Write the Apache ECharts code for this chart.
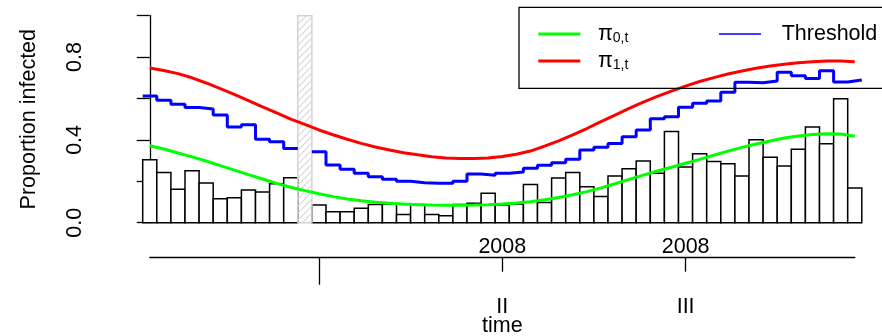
<!DOCTYPE html>
<html>
<head>
<meta charset="utf-8">
<script src="https://cdn.jsdelivr.net/npm/echarts@6/dist/echarts.min.js"></script>
<style>
  html, body { margin: 0; padding: 0; background: #fff; }
  #chart { width: 882px; height: 336px; }
</style>
</head>
<body>
<div id="chart"></div>
<script>
// Weekly proportion of infected units (null = week without observation)
const proportions = [
  0.304, 0.243, 0.161, 0.251, 0.192, 0.116, 0.121, 0.158, 0.148, 0.188,
  0.217, null,  0.086, 0.053, 0.053, 0.070, 0.088, 0.090, 0.040, 0.088,
  0.040, 0.034, 0.088, 0.094, 0.142, 0.086, 0.090, 0.185, 0.098, 0.216,
  0.242, 0.174, 0.127, 0.226, 0.261, 0.298, 0.239, 0.440, 0.269, 0.333,
  0.296, 0.285, 0.226, 0.401, 0.316, 0.274, 0.355, 0.462, 0.382, 0.599,
  0.168
];

// In-control seasonal proportion pi_{0,t}
const pi0 = [
  0.372, 0.356, 0.337, 0.318, 0.298, 0.276, 0.254, 0.232, 0.211, 0.190,
  0.171, 0.155, 0.140, 0.126, 0.115, 0.106, 0.099, 0.094, 0.090, 0.087,
  0.085, 0.084, 0.084, 0.085, 0.087, 0.090, 0.095, 0.101, 0.111, 0.122,
  0.135, 0.150, 0.168, 0.188, 0.209, 0.230, 0.250, 0.268, 0.287, 0.306,
  0.326, 0.346, 0.364, 0.380, 0.395, 0.409, 0.419, 0.426, 0.430, 0.428,
  0.418
];

// Out-of-control seasonal proportion pi_{1,t}
const pi1 = [
  0.747, 0.735, 0.720, 0.700, 0.675, 0.648, 0.620, 0.590, 0.560, 0.530,
  0.500, 0.475, 0.448, 0.425, 0.403, 0.383, 0.366, 0.351, 0.338, 0.328,
  0.319, 0.313, 0.310, 0.310, 0.313, 0.320, 0.331, 0.346, 0.370, 0.395,
  0.424, 0.455, 0.488, 0.520, 0.552, 0.582, 0.610, 0.636, 0.660, 0.682,
  0.701, 0.718, 0.733, 0.746, 0.757, 0.766, 0.773, 0.778, 0.781, 0.781,
  0.778
];

// Alarm threshold per week
const threshold = [
  0.612, 0.592, 0.572, 0.556, 0.549, 0.520, 0.462, 0.473, 0.403, 0.391,
  0.359, null,  0.343, 0.279, 0.258, 0.239, 0.222, 0.210, 0.200, 0.193,
  0.190, 0.190, 0.200, 0.235, 0.229, 0.239, 0.245, 0.263, 0.277, 0.290,
  0.306, 0.351, 0.364, 0.383, 0.415, 0.448, 0.502, 0.512, 0.558, 0.577,
  0.588, 0.630, 0.678, 0.676, 0.685, 0.727, 0.710, 0.697, 0.734, 0.680,
  0.689
];

// Time axis: year start tick, quarter ticks and their labels
const yearStartWeeks = [12];
const quarterWeeks = [25, 38];
const quarterLabels = ['II', 'III'];
const yearLabels = ['2008', '2008'];

// Y axis labelled values
const yLabelValues = [0, 0.4, 0.8];

const FONT = '"Liberation Sans", Arial, Helvetica, sans-serif';
const FS = 21.5;

// Diagonal hatch used for weeks without data
function hatchPattern() {
  const c = document.createElement('canvas');
  c.width = 7; c.height = 7;
  const g = c.getContext('2d');
  g.strokeStyle = '#d8d8d8';
  g.lineWidth = 1.2;
  g.beginPath();
  g.moveTo(0, 7); g.lineTo(7, 0);
  g.moveTo(-1, 1); g.lineTo(1, -1);
  g.moveTo(6, 8); g.lineTo(8, 6);
  g.stroke();
  return c;
}
const hatch = hatchPattern();

const barData = [];
const missingData = [];
proportions.forEach((v, i) => {
  if (v == null) missingData.push([i, 1]);
  else barData.push([i, v]);
});

const stepData = [];
threshold.forEach((t, i) => {
  if (t == null) { stepData.push([i, '-']); return; }
  stepData.push([i - 0.5, t], [i + 0.5, t]);
});

function barItem(params, api) {
  const i = api.value(0), v = api.value(1);
  const a = api.coord([i - 0.5, v]);
  const b = api.coord([i + 0.5, 0]);
  return {
    type: 'rect',
    shape: { x: a[0], y: a[1], width: b[0] - a[0], height: b[1] - a[1] },
    style: { fill: '#fff', stroke: '#000', lineWidth: 1.5 }
  };
}

function missingItem(params, api) {
  const i = api.value(0), v = api.value(1);
  const a = api.coord([i - 0.5, v]);
  const b = api.coord([i + 0.5, 0]);
  return {
    type: 'rect',
    shape: { x: a[0], y: a[1], width: b[0] - a[0], height: b[1] - a[1] },
    style: { fill: { image: hatch, repeat: 'repeat' }, stroke: '#d4d4d4', lineWidth: 1.5 }
  };
}

const legendRich = {
  p: { fontSize: FS, fontFamily: FONT, color: '#000', lineHeight: 22, padding: [0, 0, 0, 12.6] },
  s: { fontSize: 14, fontFamily: FONT, color: '#000', lineHeight: 11, verticalAlign: 'bottom' },
  t: { fontSize: FS, fontFamily: FONT, color: '#000', lineHeight: 22, padding: [0, 0, 0, 15.7] }
};
function legendText(name) {
  if (name.charAt(0) === 'π') return '{p|π}{s|' + name.slice(1) + '}';
  return '{t|' + name + '}';
}

const chart = echarts.init(document.getElementById('chart'), null, { renderer: 'canvas' });
chart.setOption({
  animation: false,
  backgroundColor: '#fff',
  grid: [
    { left: 142.7, right: 20.2, top: 15.7, bottom: 113.3, outerBoundsMode: 'none' },
    { left: 149.75, right: 27.15, top: 200, bottom: 78.3, outerBoundsMode: 'none' }
  ],
  xAxis: [
    { gridIndex: 0, type: 'value', min: -0.5, max: 50.5, show: false },
    {
      gridIndex: 1, type: 'value', min: 0, max: 50, position: 'bottom',
      axisLine: { show: true, lineStyle: { color: '#000', width: 1.3 } },
      axisTick: { show: true, customValues: yearStartWeeks, length: 27, lineStyle: { color: '#000', width: 1.3 } },
      axisLabel: { show: false },
      splitLine: { show: false }
    },
    {
      gridIndex: 1, type: 'value', min: 0, max: 50, position: 'bottom',
      axisLine: { show: false },
      axisTick: { show: true, customValues: quarterWeeks, length: 14, lineStyle: { color: '#000', width: 1.3 } },
      axisLabel: {
        show: true, customValues: quarterWeeks, margin: 38,
        formatter: v => quarterLabels[quarterWeeks.indexOf(v)],
        fontSize: FS, fontFamily: FONT, color: '#000'
      },
      splitLine: { show: false },
      name: 'time', nameLocation: 'middle', nameGap: 57, nameMoveOverlap: false,
      nameTextStyle: { fontSize: FS, fontFamily: FONT, color: '#000' }
    },
    {
      gridIndex: 1, type: 'value', min: 0, max: 50, position: 'bottom',
      axisLine: { show: false },
      axisTick: { show: false },
      axisLabel: {
        show: true, inside: true, customValues: quarterWeeks, margin: 0,
        formatter: v => yearLabels[quarterWeeks.indexOf(v)],
        fontSize: FS, fontFamily: FONT, color: '#000'
      },
      splitLine: { show: false }
    }
  ],
  yAxis: [
    {
      gridIndex: 0, type: 'value', min: 0, max: 1, interval: 0.2, position: 'left', offset: 28.4,
      axisLine: { show: true, lineStyle: { color: '#000', width: 1.3 } },
      axisTick: { show: true, length: 13, lineStyle: { color: '#000', width: 1.3 } },
      axisLabel: {
        customValues: yLabelValues, formatter: v => v.toFixed(1), rotate: 90, margin: 28,
        fontSize: FS, fontFamily: FONT, color: '#000'
      },
      splitLine: { show: false },
      name: 'Proportion infected', nameLocation: 'middle', nameGap: 74, nameMoveOverlap: false,
      nameTextStyle: { fontSize: FS, fontFamily: FONT, color: '#000' }
    },
    { gridIndex: 1, type: 'value', min: 0, max: 1, show: false }
  ],
  legend: [
    {
      data: ['π0,t', 'π1,t'], orient: 'vertical', left: 519, top: 7.3,
      padding: [15.7, 300, 16.3, 19.3], itemWidth: 42, itemHeight: 3, itemGap: 5,
      icon: 'rect',
      borderColor: '#000', borderWidth: 1.3, selectedMode: false,
      formatter: legendText, textStyle: { rich: legendRich }
    },
    {
      data: ['Threshold'], orient: 'vertical', left: 719, top: 23, padding: 0,
      itemWidth: 42, itemHeight: 1.6, icon: 'rect', selectedMode: false,
      formatter: legendText, textStyle: { rich: legendRich }
    }
  ],
  series: [
    { type: 'custom', name: 'proportion', xAxisIndex: 0, yAxisIndex: 0, renderItem: barItem, data: barData, z: 1 },
    { type: 'custom', name: 'missing', xAxisIndex: 0, yAxisIndex: 0, renderItem: missingItem, data: missingData, z: 1 },
    {
      type: 'line', name: 'π0,t', xAxisIndex: 0, yAxisIndex: 0, symbol: 'none',
      data: pi0.map((v, i) => [i, v]), lineStyle: { color: '#00ff00', width: 3 }, itemStyle: { color: '#00ff00' }, z: 3
    },
    {
      type: 'line', name: 'π1,t', xAxisIndex: 0, yAxisIndex: 0, symbol: 'none',
      data: pi1.map((v, i) => [i, v]), lineStyle: { color: '#ff0000', width: 3 }, itemStyle: { color: '#ff0000' }, z: 3
    },
    {
      type: 'line', name: 'Threshold', xAxisIndex: 0, yAxisIndex: 0, symbol: 'none',
      data: stepData, connectNulls: false, lineStyle: { color: '#0000ff', width: 3 }, itemStyle: { color: '#0000ff' }, z: 3
    }
  ]
});
</script>
</body>
</html>
